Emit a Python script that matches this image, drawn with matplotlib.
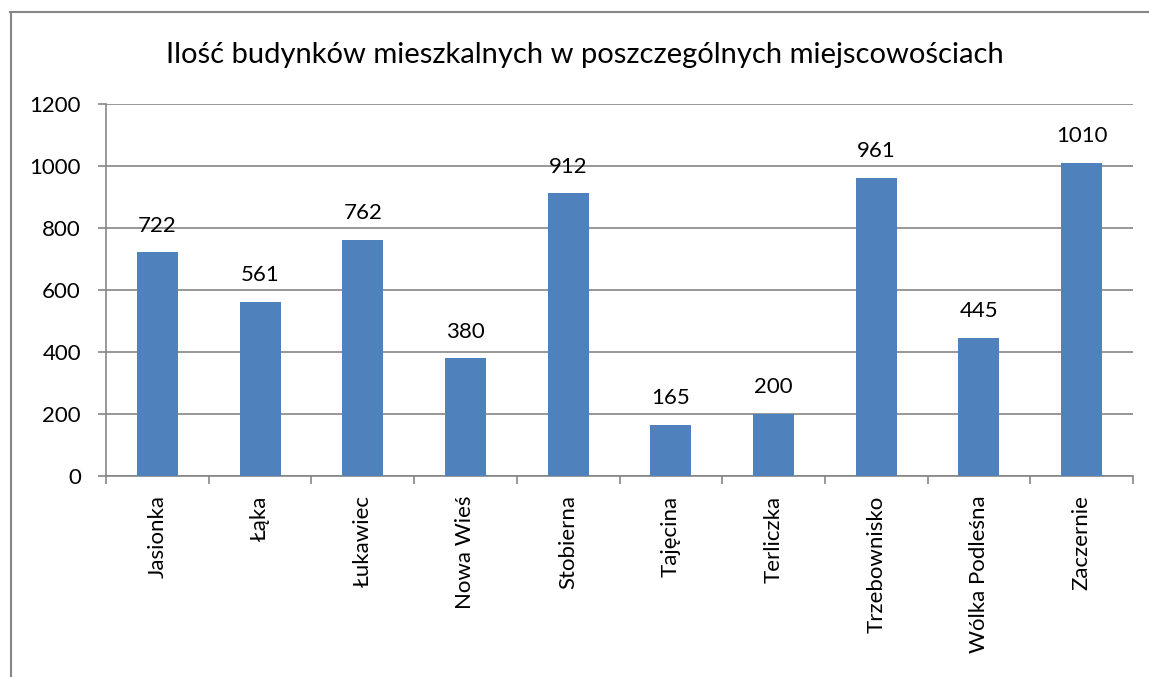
import matplotlib
matplotlib.use("Agg")
import matplotlib.pyplot as plt
from matplotlib.lines import Line2D

# dane z wykresu
miejscowosci = ['Jasionka', 'Łąka', 'Łukawiec', 'Nowa Wieś', 'Stobierna',
                'Tajęcina', 'Terliczka', 'Trzebownisko', 'Wólka Podleśna', 'Zaczernie']
budynki = [722, 561, 762, 380, 912, 165, 200, 961, 445, 1010]
y_ticks = [0, 200, 400, 600, 800, 1000, 1200]

tytul = 'Ilość budynków mieszkalnych w poszczególnych miejscowościach'

plt.rcParams['font.family'] = ['Lato', 'DejaVu Sans']

W, H = 1149, 677
fig = plt.figure(figsize=(W / 100, H / 100), dpi=100)
ax = fig.add_axes([106 / W, 1 - 476 / H, (1133 - 106) / W, (476 - 104) / H])

gray = '#868686'
x = list(range(len(miejscowosci)))
ax.bar(x, budynki, width=0.4, color='#4F81BD', zorder=3)

# etykiety nad słupkami
for i, v in enumerate(budynki):
    ax.annotate(str(v), (i, v), xytext=(0, 12), textcoords='offset points',
                ha='center', va='bottom', fontsize=16, color='black')

ax.set_xlim(-0.5, len(miejscowosci) - 0.5)
ax.set_ylim(0, 1200)
ax.set_yticks(y_ticks)
ax.set_yticklabels([str(t) for t in y_ticks], fontsize=16)
ax.yaxis.grid(True, color=gray, linewidth=1.2, zorder=0)

ax.set_xticks(x)
ax.set_xticklabels(miejscowosci, rotation=90, fontsize=16, va='top')
ax.tick_params(axis='x', length=0, pad=14)
ax.set_xticks([i - 0.5 for i in range(len(miejscowosci) + 1)], minor=True)
ax.tick_params(axis='x', which='minor', length=6, width=1.2, color=gray, direction='out')
ax.tick_params(axis='y', length=6, width=1.2, color=gray, direction='out', pad=12)

for s in ['top', 'right']:
    ax.spines[s].set_visible(False)
for s in ['left', 'bottom']:
    ax.spines[s].set_color(gray)
    ax.spines[s].set_linewidth(1.2)

fig.text(585 / W, 1 - 55 / H, tytul, ha='center', va='center', fontsize=21)

# ramka wykresu
fig.add_artist(Line2D([10.5 / W, 10.5 / W], [0, 1 - 12 / H], color=gray, linewidth=1.5,
                      transform=fig.transFigure))
fig.add_artist(Line2D([10 / W, 1], [1 - 12 / H, 1 - 12 / H], color=gray, linewidth=1.5,
                      transform=fig.transFigure))

fig.savefig('out.png', dpi=100)
